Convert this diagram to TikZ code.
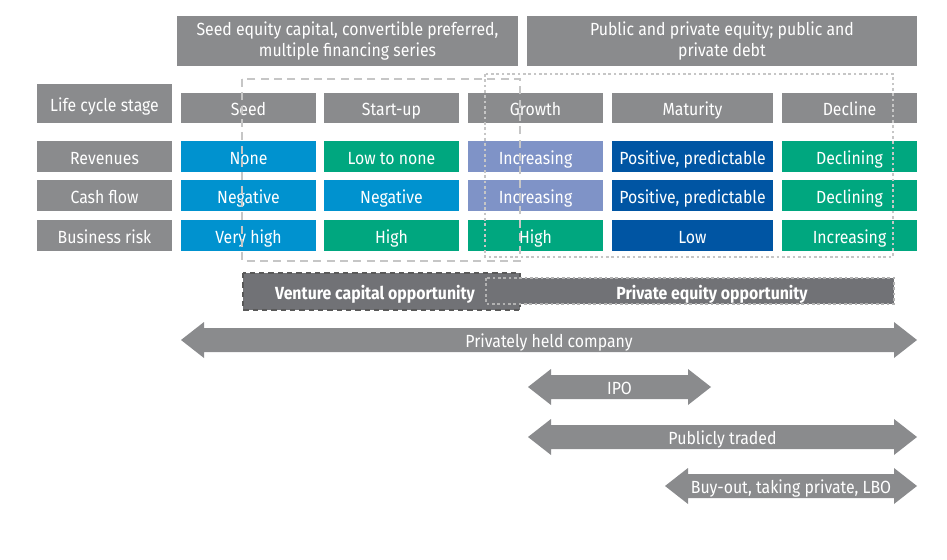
\documentclass[tikz,border=0pt]{standalone}
\usepackage{fontspec}
\setmainfont{Fira Sans}[FakeStretch=0.9]
\usetikzlibrary{positioning}

\definecolor{labelgray}{HTML}{8A8B8D}
\definecolor{seedblue}{HTML}{0092CF}
\definecolor{stagegreen}{HTML}{00A77F}
\definecolor{growlilac}{HTML}{7F93C7}
\definecolor{maturenavy}{HTML}{0055A3}
\definecolor{oppgray}{HTML}{717276}
\definecolor{dashgray}{HTML}{C6C6C6}

% block arrow: name, left tip, right tip, y, text
\newcommand\blockarrow[5]{%
  \fill[labelgray] (#2,#4) -- (#2+23,#4-18) -- (#2+23,#4-12) -- (#3-23,#4-12)
    -- (#3-23,#4-18) -- (#3,#4) -- (#3-23,#4+18) -- (#3-23,#4+12)
    -- (#2+23,#4+12) -- (#2+23,#4+18) -- cycle;
  \node[arrowtext] (#1) at ({(#2+#3)/2},#4) {#5};
}

\begin{document}
\begin{tikzpicture}[
    x=0.75pt, y=-0.75pt,
    txt/.style={text=white, font=\fontsize{13.2}{15.5}\selectfont},
    line/.style={txt, text height=11.5pt, text depth=0pt},
    box/.style={line, minimum width=135*0.75pt, minimum height=31*0.75pt, inner sep=0pt},
    wide/.style={box, minimum width=161*0.75pt},
    label/.style={box, fill=labelgray},
    topbox/.style={txt, fill=labelgray, align=center, minimum height=50*0.75pt, inner sep=0pt},
    arrowtext/.style={line, inner sep=0pt},
    vcframe/.style={draw=dashgray, thick, dash pattern=on 6pt off 4pt},
    peframe/.style={draw=dashgray, thick, dash pattern=on 2pt off 2pt},
    opptext/.style={line, font=\fontsize{13.2}{15}\selectfont\bfseries},
]
\useasboundingbox (0,0) rectangle (947,560);

% Financing sources
\node[topbox, minimum width=341*0.75pt] (fin1) at (347.5,41)
    {Seed equity capital, convertible preferred,\\multiple financing series};
\node[topbox, minimum width=390*0.75pt] (fin2) at (722,41)
    {Public and private equity; public and\\private debt};

% Row labels
\node[label, minimum height=39*0.75pt] (lbl-stage) at (104.5,103.5) {Life cycle stage};
\foreach \y/\lbl/\nm in {156.5/Revenues/rev, 195.5/Cash flow/cash, 235.5/Business risk/risk} {
    \node[label] (lbl-\nm) at (104.5,\y) {\lbl};
}

% Life cycle stages
\foreach \x/\lbl/\nm in {248.5/Seed/seed, 391.5/Start-up/start, 535.5/Growth/growth, 849.5/Decline/decline} {
    \node[label, minimum height=30*0.75pt] (st-\nm) at (\x,108) {\lbl};
}
\node[label, wide, minimum height=30*0.75pt] (st-mature) at (692.5,108) {Maturity};

% Revenues
\node[box, fill=seedblue] (rev-seed) at (248.5,156.5) {None};
\node[box, fill=stagegreen] (rev-start) at (391.5,156.5) {Low to none};
\node[box, fill=growlilac] (rev-growth) at (535.5,156.5) {Increasing};
\node[wide, fill=maturenavy] (rev-mature) at (692.5,156.5) {Positive, predictable};
\node[box, fill=stagegreen] (rev-decline) at (849.5,156.5) {Declining};

% Cash flow
\node[box, fill=seedblue] (cash-seed) at (248.5,195.5) {Negative};
\node[box, fill=seedblue] (cash-start) at (391.5,195.5) {Negative};
\node[box, fill=growlilac] (cash-growth) at (535.5,195.5) {Increasing};
\node[wide, fill=maturenavy] (cash-mature) at (692.5,195.5) {Positive, predictable};
\node[box, fill=stagegreen] (cash-decline) at (849.5,195.5) {Declining};

% Business risk
\node[box, fill=seedblue] (risk-seed) at (248.5,235.5) {Very high};
\node[box, fill=stagegreen] (risk-start) at (391.5,235.5) {High};
\node[box, fill=stagegreen] (risk-growth) at (535.5,235.5) {High};
\node[wide, fill=maturenavy] (risk-mature) at (692.5,235.5) {Low};
\node[box, fill=stagegreen] (risk-decline) at (849.5,235.5) {Increasing};

% Opportunity frames
\draw[vcframe] (242,79) rectangle (520,261);
\draw[peframe] (485,74) rectangle (893,257);

% Opportunity bars
\filldraw[fill=oppgray, draw=black!65, thick, dash pattern=on 4pt off 3pt] (243,273) rectangle (520,310);
\filldraw[fill=oppgray, draw=black!30, thick, dash pattern=on 2pt off 2pt] (486,278) rectangle (894,304);
\node[opptext] (vc) at (375,292) {Venture capital opportunity};
\node[opptext] (pe) at (712,292) {Private equity opportunity};

% Ownership status
\blockarrow{private}{181}{917}{340}{Privately held company}
\blockarrow{ipo}{528}{711}{387}{IPO}
\blockarrow{public}{528}{917}{437}{Publicly traded}
\blockarrow{buyout}{665}{917}{486}{Buy-out, taking private, LBO}

\end{tikzpicture}
\end{document}
